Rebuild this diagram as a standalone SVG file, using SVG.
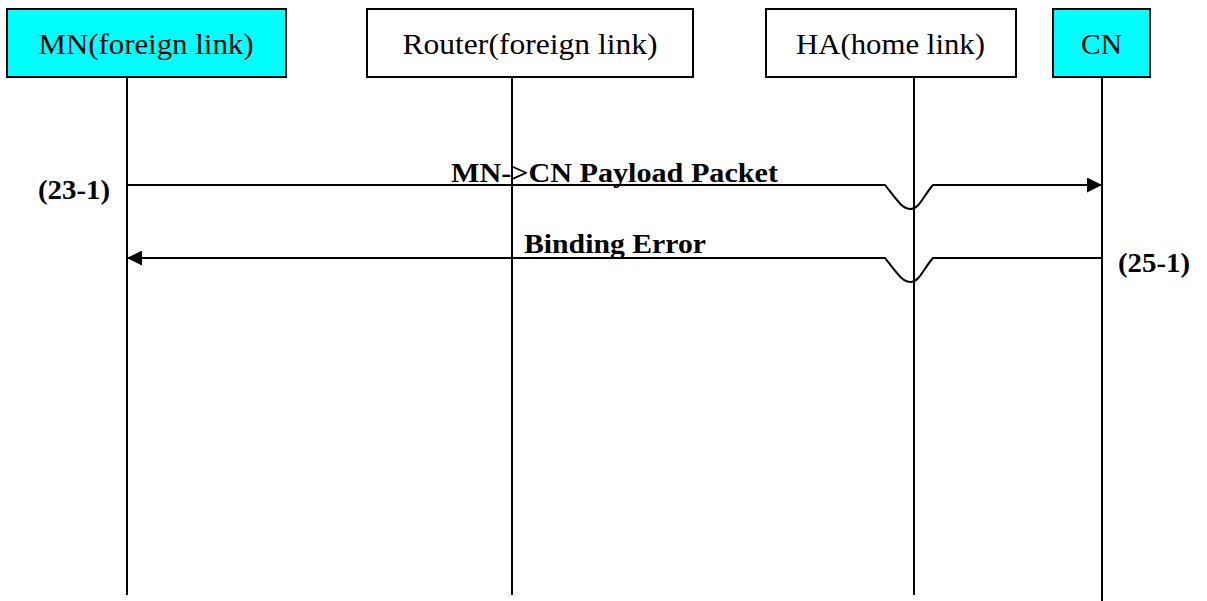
<svg xmlns="http://www.w3.org/2000/svg" width="1207" height="601" viewBox="0 0 1207 601">
<defs>
<style>
.box{stroke:#000;stroke-width:2}
.cyan{fill:#00FFFF}
.white{fill:#fff}
.title{font-family:"Liberation Serif","Times New Roman",serif;font-size:30px;fill:#000;text-anchor:middle}
.lbl{font-family:"Liberation Serif","Times New Roman",serif;font-size:28px;font-weight:bold;fill:#000}
.num{font-family:"Liberation Serif","Times New Roman",serif;font-size:27px;font-weight:bold;fill:#000}
.life{stroke:#000;stroke-width:2;fill:none}
.msg{stroke:#000;stroke-width:2;fill:none}
</style>
<marker id="ah" markerWidth="15" markerHeight="15" viewBox="0 0 15 15" refX="15" refY="7.5" orient="auto" markerUnits="userSpaceOnUse">
<path d="M0,0 L15,7.5 L0,15 Z" fill="#000"/>
</marker>
</defs>
<rect width="1207" height="601" fill="#fff"/>
<g id="lifelines">
<line class="life" x1="127" y1="77" x2="127" y2="595"/>
<line class="life" x1="512" y1="77" x2="512" y2="595"/>
<line class="life" x1="914" y1="77" x2="914" y2="595"/>
<line class="life" x1="1102" y1="77" x2="1102" y2="601"/>
</g>
<g id="node-mn">
<rect class="box cyan" x="7" y="9" width="279" height="68"/>
<text class="title" x="146" y="54" textLength="215" lengthAdjust="spacingAndGlyphs">MN(foreign link)</text>
</g>
<g id="node-router">
<rect class="box white" x="367" y="9" width="326" height="68"/>
<text class="title" x="530" y="54" textLength="255" lengthAdjust="spacingAndGlyphs">Router(foreign link)</text>
</g>
<g id="node-ha">
<rect class="box white" x="766" y="9" width="250" height="68"/>
<text class="title" x="890.5" y="54" textLength="189" lengthAdjust="spacingAndGlyphs">HA(home link)</text>
</g>
<g id="node-cn">
<rect class="box cyan" x="1053" y="9" width="97" height="68"/>
<text class="title" x="1101.5" y="54" textLength="41" lengthAdjust="spacingAndGlyphs">CN</text>
</g>
<g id="connectors">
<path class="msg" d="M127,185 L885,185 C897,200 902,209 911,209 C919,209 924,195 933,185 L1102,185" marker-end="url(#ah)"/>
<path class="msg" d="M1102,258 L933,258 C924,268 919,282 911,282 C902,282 897,273 885,258 L127,258" marker-end="url(#ah)"/>
<text class="lbl" x="451" y="182" textLength="327" lengthAdjust="spacingAndGlyphs">MN-&gt;CN Payload Packet</text>
<text class="lbl" x="524" y="253" textLength="182" lengthAdjust="spacingAndGlyphs">Binding Error</text>
<text class="num" x="38" y="199" textLength="72" lengthAdjust="spacingAndGlyphs">(23-1)</text>
<text class="num" x="1118" y="272" textLength="72" lengthAdjust="spacingAndGlyphs">(25-1)</text>
</g>
</svg>
